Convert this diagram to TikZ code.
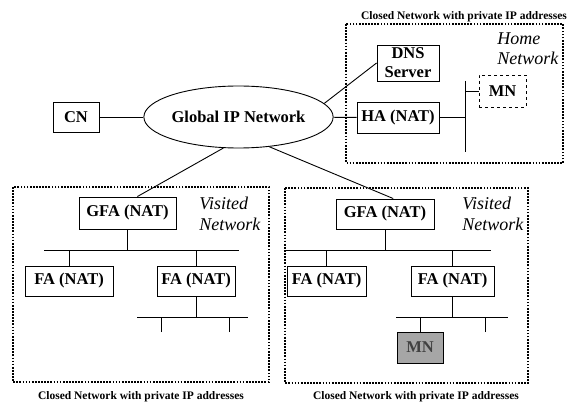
\documentclass[tikz,border=0pt]{standalone}
\usepackage{fontspec}
\setmainfont{Liberation Serif}
\usepackage{tikz}
\usetikzlibrary{shapes.geometric}

\begin{document}
\begin{tikzpicture}[x=1pt,y=-1pt,line width=0.9pt,
		box/.style={draw,inner sep=0pt,align=center,font=\fontsize{16.5}{19}\selectfont\bfseries},
		netbox/.style={draw,line width=1.8pt,dash pattern=on 1.7pt off 1.4pt},
		nettitle/.style={inner sep=0pt,font=\fontsize{11.5}{13}\selectfont\bfseries},
		netname/.style={anchor=north west,inner sep=0pt,align=left,font=\fontsize{18}{20.5}\selectfont\itshape}]
		\useasboundingbox (0,0) rectangle (588,403);

		% the three closed networks
		\draw[netbox] (346,24) rectangle (563,163);
		\draw[netbox] (13,187) rectangle (269,382);
		\draw[netbox] (285,188) rectangle (528,383);
		\node[nettitle] (hometitle) at (464,17) {Closed Network with private IP addresses};
		\node[nettitle] (lefttitle) at (141,397) {Closed Network with private IP addresses};
		\node[nettitle] (righttitle) at (416,397) {Closed Network with private IP addresses};
		\node[netname] (homename) at (497,32) {Home\\Network};
		\node[netname] (leftname) at (199,197) {Visited\\Network};
		\node[netname] (rightname) at (462,197) {Visited\\Network};

		\node[box,minimum width=46pt,minimum height=30pt] (cn) at (76,117) {CN};
		\node[box,ellipse,minimum width=153pt,minimum height=62pt] (gin) at (238.5,117) {Global IP Network};
		\node[box,minimum width=62pt,minimum height=36pt] (dns) at (408,63) {DNS\\Server};
		\node[box,minimum width=82pt,minimum height=31pt] (ha) at (398,117.5) {HA (NAT)};
		\node[box,dashed,minimum width=47pt,minimum height=32pt] (mnhome) at (502.5,91) {MN};

		\node[box,minimum width=97pt,minimum height=32pt] (gfaleft) at (127.5,213) {GFA (NAT)};
		\node[box,minimum width=88pt,minimum height=30pt] (faleftA) at (69,281) {FA (NAT)};
		\node[box,minimum width=78pt,minimum height=30pt] (faleftB) at (196,281) {FA (NAT)};

		\node[box,minimum width=98pt,minimum height=30pt] (gfaright) at (385,214) {GFA (NAT)};
		\node[box,minimum width=79pt,minimum height=30pt] (farightA) at (326.5,281) {FA (NAT)};
		\node[box,minimum width=83pt,minimum height=30pt] (farightB) at (452.5,281) {FA (NAT)};
		\node[box,fill=black!35,text=black!75,minimum width=46pt,minimum height=31pt] (mnvisit) at (420,347.5) {MN};

		% bus lines
		\coordinate (hbusA) at (465,81);
		\coordinate (hbusB) at (465,152);
		\coordinate (lbusA) at (44,250);
		\coordinate (lbusB) at (239,250);
		\coordinate (lbusC) at (137,317);
		\coordinate (lbusD) at (248,317);
		\coordinate (rbusA) at (285,250);
		\coordinate (rbusB) at (491,250);
		\coordinate (rbusC) at (396,317);
		\coordinate (rbusD) at (508,317);
		\coordinate (ldropA) at (161,332);
		\coordinate (ldropB) at (229,332);
		\coordinate (rdropB) at (485,332);
		\draw (hbusA) -- (hbusB);
		\draw (lbusA) -- (lbusB);
		\draw (lbusC) -- (lbusD);
		\draw (rbusA) -- (rbusB);
		\draw (rbusC) -- (rbusD);

		\draw (cn) -- (gin);
		\draw (gin) -- (ha);
		\draw (gin.9) -- (dns.west);
		\draw (gin.244) -- (gfaleft.59);
		\draw (gin.316) -- (gfaright.62);
		\draw (ha.east) -- (ha.east -| hbusA);
		\draw (mnhome.west) -- (mnhome.west -| hbusA);

		\draw (gfaleft.south) -- (gfaleft.south |- lbusA);
		\draw (faleftA.north) -- (faleftA.north |- lbusA);
		\draw (faleftB.north) -- (faleftB.north |- lbusA);
		\draw (faleftB.south) -- (faleftB.south |- lbusC);
		\draw (ldropA) -- (ldropA |- lbusC);
		\draw (ldropB) -- (ldropB |- lbusC);

		\draw (gfaright.south) -- (gfaright.south |- rbusA);
		\draw (farightA.north) -- (farightA.north |- rbusA);
		\draw (farightB.north) -- (farightB.north |- rbusA);
		\draw (farightB.south) -- (farightB.south |- rbusC);
		\draw (mnvisit.north) -- (mnvisit.north |- rbusC);
		\draw (rdropB) -- (rdropB |- rbusC);
	\end{tikzpicture}
\end{document}
